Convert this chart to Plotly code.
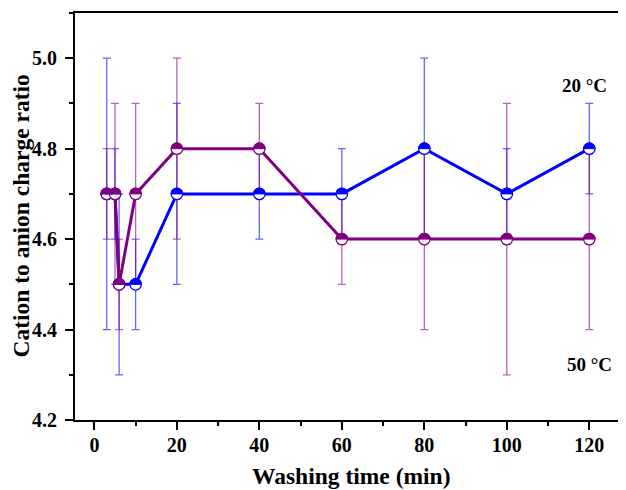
import plotly.graph_objects as go

time_min = [3, 5, 6, 10, 20, 40, 60, 80, 100, 120]
ratio_20C = [4.7, 4.7, 4.5, 4.5, 4.7, 4.7, 4.7, 4.8, 4.7, 4.8]
err_20C = [0.3, 0.1, 0.2, 0.1, 0.2, 0.1, 0.1, 0.2, 0.1, 0.1]
ratio_50C = [4.7, 4.7, 4.5, 4.7, 4.8, 4.8, 4.6, 4.6, 4.6, 4.6]
err_50C = [0.1, 0.2, 0.1, 0.2, 0.2, 0.1, 0.1, 0.2, 0.3, 0.2]

BLUE = "#0000FF"
PURPLE = "#800080"
FONT = "Liberation Serif"

fig = go.Figure()

series = [
    (ratio_20C, err_20C, BLUE, "rgba(0,0,255,0.6)"),
    (ratio_50C, err_50C, PURPLE, "rgba(128,0,128,0.6)"),
]

# error bars
for y, e, c, ec in series:
    fig.add_trace(go.Scatter(
        x=time_min, y=y, mode="markers",
        marker=dict(size=1, color="rgba(0,0,0,0)"),
        error_y=dict(type="data", array=e, visible=True, color=ec,
                     thickness=1.3, width=4),
        showlegend=False, hoverinfo="skip"))

# lines
for y, e, c, ec in series:
    fig.add_trace(go.Scatter(
        x=time_min, y=y, mode="lines",
        line=dict(color=c, width=3),
        showlegend=False))

# open markers (white bottom)
for y, e, c, ec in series:
    fig.add_trace(go.Scatter(
        x=time_min, y=y, mode="markers",
        marker=dict(symbol="circle", size=11.5, color="white",
                    line=dict(color=c, width=1.3)),
        showlegend=False))

# filled top halves
r = 5.75
k = 0.5523 * r
half_path = (f"M {-r} 0 C {-r} {k} {-k} {r} 0 {r} "
             f"C {k} {r} {r} {k} {r} 0 Z")
shapes = []
for y, e, c, ec in series:
    for xi, yi in zip(time_min, y):
        shapes.append(dict(
            type="path", xref="x", yref="y",
            xsizemode="pixel", ysizemode="pixel",
            xanchor=xi, yanchor=yi, path=half_path,
            fillcolor=c, line=dict(color=c, width=1), layer="above"))

# page body has an 8px margin, so the figure is offset by 8px
fig.update_layout(
    width=618, height=482,
    margin=dict(l=67, r=0, t=5, b=70),
    paper_bgcolor="white", plot_bgcolor="white",
    font=dict(family=FONT, size=20, color="black", weight="bold"),
    shapes=shapes,
    showlegend=False,
    annotations=[
        dict(x=118.8, y=4.94, xref="x", yref="y", text="20 °C",
             showarrow=False, font=dict(size=19, family=FONT, weight="bold")),
        dict(x=120, y=4.322, xref="x", yref="y", text="50 °C",
             showarrow=False, font=dict(size=19, family=FONT, weight="bold")),
        dict(x=-0.0998, y=0.5, xref="paper", yref="paper",
             text="Cation to anion charge ratio", textangle=-90,
             xanchor="center", yanchor="middle", showarrow=False,
             font=dict(size=23.5, family=FONT, weight="bold")),
        dict(x=0.5, y=-0.1376, xref="paper", yref="paper",
             text="Washing time (min)",
             xanchor="center", yanchor="middle", showarrow=False,
             font=dict(size=23.5, family=FONT, weight="bold")),
    ],
)

fig.update_xaxes(
    range=[-4.7, 128.9], tickmode="array",
    tickvals=[0, 20, 40, 60, 80, 100, 120],
    ticks="outside", ticklen=8, tickwidth=2, tickcolor="black",
    ticklabelstandoff=-2,
    minor=dict(dtick=10, tick0=0, ticks="outside", ticklen=4, tickwidth=2, tickcolor="black"),
    showline=True, linewidth=2, linecolor="black", mirror=True,
    showgrid=False, zeroline=False,
    tickfont=dict(size=20, family=FONT, weight="bold"),
)
fig.update_yaxes(
    range=[4.2, 5.1], tickmode="array",
    tickvals=[4.2, 4.4, 4.6, 4.8, 5.0], ticktext=["4.2", "4.4", "4.6", "4.8", "5.0"],
    ticks="outside", ticklen=8, tickwidth=2, tickcolor="black",
    ticklabelstandoff=4,
    minor=dict(dtick=0.1, tick0=4.2, ticks="outside", ticklen=4, tickwidth=2, tickcolor="black"),
    showline=True, linewidth=2, linecolor="black",
    showgrid=False, zeroline=False,
    tickfont=dict(size=20, family=FONT, weight="bold"),
)

fig.write_html("out.html")
